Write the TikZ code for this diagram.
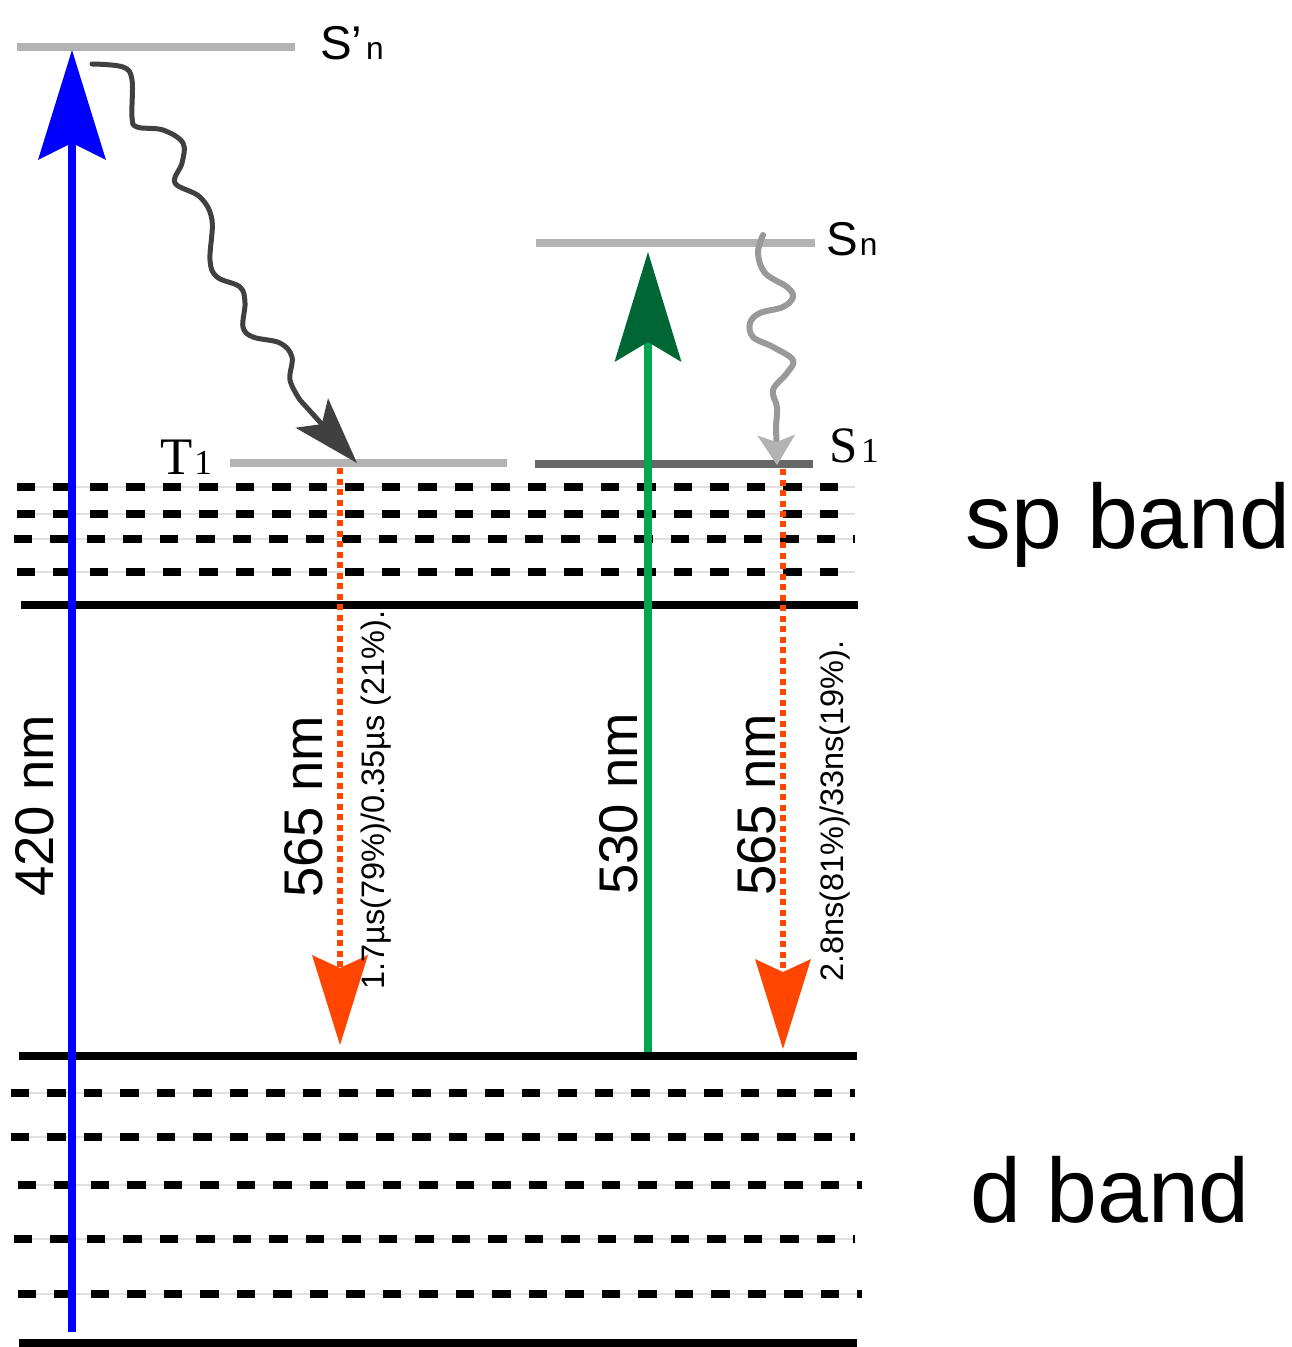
\documentclass[tikz,border=0pt]{standalone}
\usepackage{fontspec}
\setmainfont{Liberation Sans}
\newfontfamily\timesfont{Liberation Serif}
\usetikzlibrary{arrows.meta}

\definecolor{levelgray}{RGB}{179,179,179}
\definecolor{sonegray}{RGB}{102,102,102}
\definecolor{pumpgreen}{RGB}{0,166,80}
\definecolor{headgreen}{RGB}{0,102,51}
\definecolor{emitorange}{RGB}{255,69,0}
\definecolor{wavedark}{RGB}{64,64,64}
\definecolor{wavegray}{RGB}{153,153,153}

\begin{document}
\begin{tikzpicture}[
  x=0.02cm, y=-0.02cm,
  level/.style={draw=levelgray, line width=0.16cm},
  band/.style={draw=black, line width=0.16cm},
  subband/.style={draw=black, line width=0.17cm, dash pattern=on 0.37cm off 0.36cm,
    preaction={draw=black!12, line width=0.6pt, solid}},
  lbl/.style={inner sep=0pt, anchor=base west},
  bandlbl/.style={inner sep=0pt, anchor=base west, font=\fontsize{52}{60}\selectfont},
  vlabel/.style={inner sep=0pt, anchor=base, rotate=90, font=\fontsize{31}{36}\selectfont},
  vnote/.style={inner sep=0pt, anchor=base, rotate=90, font=\fontsize{18.5}{20}\selectfont},
  pump/.style={line width=0.16cm},
  emit/.style={draw=emitorange, line width=0.13cm, dash pattern=on 0.12cm off 0.09cm,
    -{Stealth[length=1.8cm, width=1.12cm, inset=0.26cm, line width=0pt]}},
  relax/.style={line width=0.1cm, draw=wavedark, line cap=round, line join=round,
    -{Stealth[length=1.35cm, width=0.88cm, inset=0.3cm, line width=0pt, color=wavedark]}}
]
\useasboundingbox (0,0) rectangle (1292,1347);

% levels
\draw[level] (17,47) -- (295,47);
\draw[level] (536,243) -- (815,243);
\draw[level] (230,463) -- (507,463);
\draw[level, draw=sonegray] (535,464) -- (813,464);

\node[lbl] (snp) at (320,59) {\fontsize{27}{30}\selectfont S’\kern2pt\fontsize{18}{20}\selectfont n};
\node[lbl] (sn) at (826,255) {\fontsize{27}{30}\selectfont S\kern1pt\fontsize{18}{20}\selectfont n};
\node[lbl] (tone) at (160,474) {\timesfont\fontsize{30}{34}\selectfont T\kern1pt\fontsize{20}{24}\selectfont 1};
\node[lbl] (sone) at (829,462) {\timesfont\fontsize{29}{34}\selectfont S\kern2pt\fontsize{20}{24}\selectfont 1};

% sp band
\draw[subband] (17,487) -- (855,487);
\draw[subband] (17,514) -- (855,514);
\draw[subband] (14,539) -- (855,539);
\draw[subband] (17,572) -- (855,572);
\draw[band] (21,605) -- (858,605);

% d band
\draw[band] (19,1056) -- (857,1056);
\draw[subband] (11,1093) -- (855,1093);
\draw[subband] (11,1137) -- (855,1137);
\draw[subband] (18,1185) -- (862,1185);
\draw[subband] (14,1239) -- (855,1239);
\draw[subband] (18,1294) -- (862,1294);
\draw[band] (19,1343) -- (857,1343);

\node[bandlbl] (spb) at (965,548) {sp band};
\node[bandlbl] (db) at (970,1222) {d band};

% arrows
\coordinate (blueBot) at (72,1332);
\coordinate (blueTop) at (72,50);
\coordinate (greenBot) at (648,1052);
\coordinate (greenTop) at (648,252);
\draw[pump, draw=blue, -{Stealth[length=2.2cm, width=1.36cm, inset=0.34cm, line width=0pt]}] (blueBot) -- (blueTop);
\draw[pump, draw=pumpgreen, -{Stealth[length=2.2cm, width=1.34cm, inset=0.4cm, line width=0pt, color=headgreen]}] (greenBot) -- (greenTop);

\coordinate (tEmit) at (340,468);
\coordinate (tLand) at (340,1045);
\coordinate (sEmit) at (783,469);
\coordinate (sLand) at (783,1049);
\draw[emit] (tEmit) -- (tLand);
\draw[emit] (sEmit) -- (sLand);

\coordinate (isc) at (92,64);
\coordinate (tHit) at (357,463);
\draw[relax] plot[smooth, tension=0.6] coordinates {(isc) (123,67) (132,80) (132,117) (137,127) (163,130)
  (183,143) (182,163) (175,183) (200,197) (212,220) (210,260) (217,277) (240,287) (245,303)
  (243,327) (253,337) (280,343) (292,357) (290,380) (300,400)} -- (tHit);

\coordinate (icStart) at (763,235);
\coordinate (sHit) at (777,465);
\draw[relax, draw=wavegray, line width=0.12cm,
  -{Stealth[length=0.6cm, width=0.76cm, inset=0.14cm, line width=0pt, color=levelgray]}]
  plot[smooth, tension=0.6] coordinates {(icStart) (758,253) (765,273) (787,287) (793,297) (783,307)
  (760,313) (750,323) (753,337) (773,347) (793,360) (787,373) (773,390) (777,407) (776,425)} -- (sHit);

% labels
\node[vlabel] (l420) at (53,806) {420 nm};
\node[vlabel] (l565t) at (322,807) {565 nm};
\node[vlabel] (l530) at (637,804) {530 nm};
\node[vlabel] (l565s) at (775,805) {565 nm};
\node[vnote] (tlife) at (384,800) {1.7µs(79\%)/0.35µs (21\%).};
\node[vnote] (slife) at (843,811) {2.8ns(81\%)/33ns(19\%).};

\end{tikzpicture}
\end{document}
